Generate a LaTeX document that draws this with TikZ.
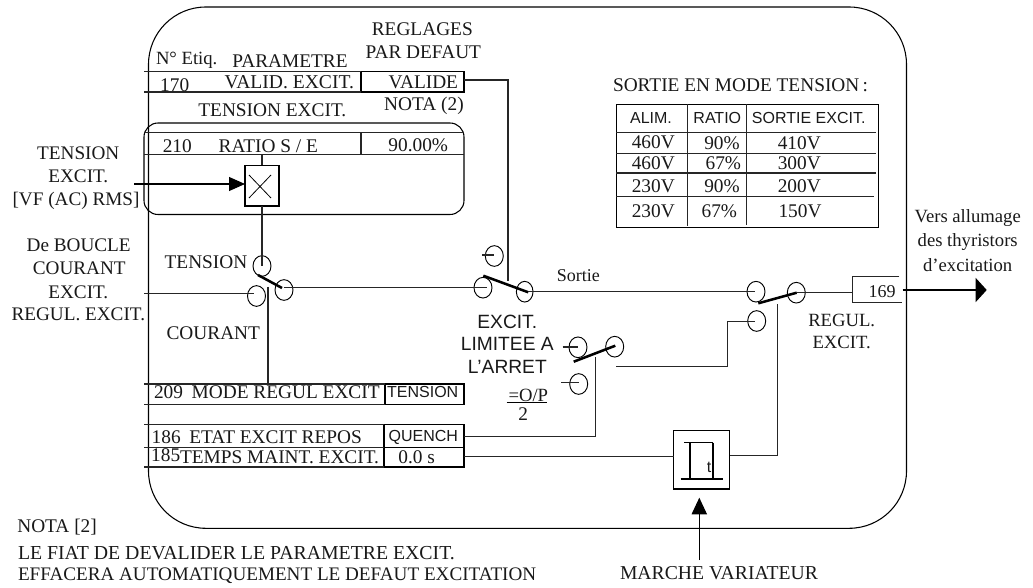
\documentclass[tikz,border=0pt]{standalone}
\usepackage{fontspec}
\setmainfont{Liberation Serif}
\setsansfont{Liberation Sans}
\usetikzlibrary{shapes.geometric,arrows.meta,fit}
\tikzset{
  x=0.75pt,y=-0.75pt,
  every path/.append style={line width=0.8pt},
  lab/.style={inner sep=0,outer sep=0,font=\fontsize{14.5}{16}\selectfont,text=black!90},
  slab/.style={inner sep=0,outer sep=0,font=\sffamily\fontsize{12}{14}\selectfont,text=black!90},
  blab/.style={inner sep=0,outer sep=0,font=\sffamily\fontsize{14.4}{16}\selectfont,text=black!90},
  cellbox/.style={draw,inner sep=0,outer sep=0,line width=0.8pt},
  sw/.style={draw,ellipse,inner sep=0,outer sep=0,minimum width=13.5pt,minimum height=15.5pt,line width=0.7pt},
  bar/.style={line width=1.9pt},
  wire/.style={line width=0.8pt,draw=black!85},
}
\begin{document}
\begin{tikzpicture}
\useasboundingbox (0,0) rectangle (1033,588);
\fill[white] (0,0) rectangle (1033,588);

% outer frame
\node[cellbox,rounded corners=43pt,line width=0.8pt,fit={(148.5,7)(906.5,528.3)}] (frame) {};

% parameter cells
\node[cellbox,fit={(361,71.5)(464,92)}] (cval) {};
\node[cellbox,rounded corners=10.5pt,fit={(144,123)(464,214.5)}] (ratiogroup) {};
\node[cellbox,fit={(385,384)(464,404.7)}] (cmode) {};
\node[cellbox,fit={(384,424.3)(464,447.3)}] (cquench) {};
\node[cellbox,fit={(384,447.3)(464,467)}] (ctemps) {};
\node[cellbox,fit={(245,165.5)(279,206)}] (xbox) {};
\node[cellbox,fit={(673.7,430.3)(729.7,489)}] (timer) {};

% row rules
\coordinate (r1a) at (144,71.5); \coordinate (r1b) at (144,92);
\draw[wire] (r1a) -- (r1a -| cval.west);
\draw[wire] (r1b) -- (r1b -| cval.west);
\coordinate (r2a) at (144,132.5); \coordinate (r2b) at (144,154.5);
\coordinate (r2c) at (464,132.5); \coordinate (r2d) at (464,154.5);
\draw[wire] (r2a) -- (r2c);
\draw[wire] (r2b) -- (r2d);
\coordinate (r2e) at (361,132.5); \coordinate (r2f) at (361,154.5);
\draw[wire] (r2e) -- (r2f);
\coordinate (r3a) at (144,384); \coordinate (r3b) at (144,404.7);
\draw[wire] (r3a) -- (r3a -| cmode.west);
\draw[wire] (r3b) -- (r3b -| cmode.west);
\coordinate (r4a) at (144,424.3); \coordinate (r4b) at (144,447.3); \coordinate (r4c) at (144,467);
\draw[wire] (r4a) -- (r4a -| cquench.west);
\draw[wire] (r4b) -- (r4b -| cquench.west);
\draw[wire] (r4c) -- (r4c -| ctemps.west);

% X multiplier
\coordinate (xa) at (249,175); \coordinate (xb) at (271,198);
\draw[line width=0.6pt] (xa) -- (xb);
\draw[line width=0.6pt] (xa |- xb) -- (xb |- xa);

% switch contacts
\node[sw] (s1t) at (262,266) {};
\node[sw] (s1l) at (256.5,296) {};
\node[sw] (s1r) at (284,290) {};
\node[sw] (s2t) at (494.3,256) {};
\node[sw] (s2l) at (483,287.7) {};
\node[sw,minimum width=12.5pt] (s2r) at (524.7,291.7) {};
\node[sw] (s3l) at (756,291.7) {};
\node[sw] (s3r) at (796.3,292.7) {};
\node[sw] (s3b) at (756.7,321) {};
\node[sw] (s4l) at (578,347.3) {};
\node[sw] (s4r) at (614.7,346.7) {};
\node[sw] (s4b) at (578.7,384) {};

% switch blades
\coordinate (b1a) at (258,275); \coordinate (b1b) at (282,288);
\coordinate (b2a) at (483.3,275.7); \coordinate (b2b) at (528.3,292.3);
\coordinate (b3a) at (758.3,303.3); \coordinate (b3b) at (796.7,292.7);
\coordinate (b4a) at (573.7,361.7); \coordinate (b4b) at (615.3,345.7);
\draw[bar] (b1a) -- (b1b);
\draw[bar] (b2a) -- (b2b);
\draw[bar] (b3a) -- (b3b);
\draw[bar] (b4a) -- (b4b);

% wiring
\coordinate (j1) at (508,80);
\coordinate (j1e) at (508,280.7);
\draw[wire] (cval.east |- j1) -- (j1) -- (j1e);
\coordinate (rt) at (262,154.5);
\draw[wire] (rt) -- (xbox.north);
\draw[wire] (xbox.south) -- (s1t.center);
\coordinate (inL) at (144,293.5);
\coordinate (inLe) at (254,293.5);
\draw[wire,line width=1pt] (inL) -- (inLe);
\coordinate (m1) at (284,287.5);
\coordinate (m2) at (486.7,287.5);
\draw[wire] (m1) -- (m2);
\coordinate (c1) at (268,287);
\coordinate (c2) at (268,384);
\draw[wire,line width=1pt] (c1) -- (c2);
\coordinate (t2a) at (482,255);
\draw[wire] (t2a) -- (t2a -| s2t.center);
\coordinate (sort1) at (528,291.3);
\coordinate (sort2) at (755,291.3);
\draw[wire] (sort1) -- (sort2);
\coordinate (o3) at (852.7,292.7);
\draw[wire] (s3r.center) -- (o3);
\coordinate (q1) at (595.7,436.5);
\coordinate (q2) at (595.7,356.7);
\draw[wire] (cquench.east |- q1) -- (q1) -- (q2);
\coordinate (h1) at (616,366.7);
\coordinate (h2) at (727.7,366.7);
\coordinate (h3) at (727.7,321.7);
\coordinate (h4) at (755,321.7);
\draw[wire,line width=1pt] (h1) -- (h2) -- (h3) -- (h4);
\coordinate (t4a) at (562.7,347);
\coordinate (t4ae) at (578.3,347);
\draw[wire] (t4a) -- (t4ae);
\coordinate (t4b) at (561,382.7);
\coordinate (t4be) at (579,382.7);
\draw[wire] (t4b) -- (t4be);
\coordinate (tin) at (464,456.7);
\draw[wire,line width=1pt] (tin) -- (tin -| timer.west);
\coordinate (tout) at (777.7,455.7);
\coordinate (tup) at (777.7,304.3);
\draw[wire] (timer.east |- tout) -- (tout) -- (tup);

% timer pulse symbol
\coordinate (p0) at (680.7,479); \coordinate (p1) at (722.7,479);
\draw[line width=0.8pt] (p0) -- (p1);
\coordinate (p2) at (684,442.7); \coordinate (p3) at (712.7,442.7); \coordinate (p4) at (712.7,479);
\coordinate (p5) at (690,442.7); \coordinate (p6) at (690,479);
\draw[line width=0.8pt] (p2) -- (p3);
\draw[line width=0.8pt] (p5) -- (p6);
\draw[line width=1.3pt] (p3) -- (p4);
\node[slab] (tt) at (709,467) {t};

% box 169 (open right)
\coordinate (n1) at (852.7,276.3); \coordinate (n2) at (899.3,276.3);
\coordinate (n3) at (852.7,302.3); \coordinate (n4) at (902.3,302.3);
\draw[wire] (n2) -- (n1) -- (n3) -- (n4);

% arrows
\coordinate (a1s) at (134,184);
\draw[line width=0.8pt,-{Triangle[length=12pt,width=10.5pt]}] (a1s) -- (a1s -| xbox.west);
\coordinate (a2s) at (902.7,290); \coordinate (a2e) at (986.7,290);
\draw[line width=0.8pt,-{Triangle[length=8.25pt,width=18pt]}] (a2s) -- (a2e);
\coordinate (a3s) at (699.3,560); \coordinate (a3e) at (699.3,497.7);
\draw[line width=0.8pt,-{Triangle[length=12.5pt,width=11.5pt]}] (a3s) -- (a3e);

% table
\node[cellbox,fit={(616.3,104.3)(878.3,227.7)}] (tbl) {};
\coordinate (v1a) at (687.3,104.3); \coordinate (v1b) at (687.3,225.7);
\coordinate (v2a) at (746.7,104.3); \coordinate (v2b) at (746.7,225);
\draw[wire] (v1a) -- (v1b);
\draw[wire] (v2a) -- (v2b);
\coordinate (h1a) at (616.3,132.7); \coordinate (h1b) at (875.7,132.7);
\coordinate (h2a) at (616.3,153.3); \coordinate (h2b) at (875.7,153.3);
\coordinate (h3a) at (616.3,173); \coordinate (h3b) at (876,173);
\coordinate (h4a) at (616.3,196.3); \coordinate (h4b) at (874,196.3);
\draw[wire] (h1a) -- (h1b);
\draw[wire] (h2a) -- (h2b);
\draw[wire,line width=1pt] (h3a) -- (h3b);
\draw[wire] (h4a) -- (h4b);

\node[lab] (tt0) at (740.5,85.7) {SORTIE EN MODE TENSION\,:};
\node[slab] (th1) at (651,117.7) {ALIM.};
\node[slab] (th2) at (717.3,118.3) {RATIO};
\node[slab] (th3) at (808.7,117.7) {SORTIE EXCIT.};
\node[lab] (d11) at (653.3,142.7) {460V};
\node[lab] (d12) at (722,143.5) {90\%};
\node[lab] (d13) at (799.3,143.7) {410V};
\node[lab] (d21) at (653.3,163.3) {460V};
\node[lab] (d22) at (723.3,163.7) {67\%};
\node[lab] (d23) at (799.3,163.7) {300V};
\node[lab] (d31) at (653.3,186) {230V};
\node[lab] (d32) at (722,186) {90\%};
\node[lab] (d33) at (799.3,186) {200V};
\node[lab] (d41) at (653.3,211) {230V};
\node[lab] (d42) at (719.3,211) {67\%};
\node[lab] (d43) at (800,211) {150V};

% labels
\node[lab] (l1) at (422.3,29.3) {REGLAGES};
\node[lab] (l2) at (423.3,52.3) {PAR DEFAUT};
\node[lab,font=\fontsize{14}{16}\selectfont] (l3) at (186.7,60) {N° Etiq.};
\node[lab] (l4) at (290,60.7) {PARAMETRE};
\node[lab] (l5) at (174.7,84.7) {170};
\node[lab,font=\fontsize{14.7}{16}\selectfont] (l6) at (289.3,81.7) {VALID. EXCIT.};
\node[lab] (l7) at (423.3,82.7) {VALIDE};
\node[lab] (l8) at (424,106) {NOTA (2)};
\node[lab] (l9) at (272.3,110.3) {TENSION EXCIT.};
\node[lab] (l10) at (177.3,145.7) {210};
\node[lab] (l11) at (268.3,145.7) {RATIO S / E};
\node[lab] (l12) at (418.3,145.7) {90.00\%};
\node[lab,font=\fontsize{14.4}{16}\selectfont] (l13) at (78.3,153.7) {TENSION};
\node[lab,font=\fontsize{14.4}{16}\selectfont] (l14) at (78.3,176.7) {EXCIT.};
\node[lab,font=\fontsize{14.4}{16}\selectfont] (l15) at (76,201) {[VF (AC) RMS]};
\node[lab,font=\fontsize{14.4}{16}\selectfont] (l16) at (78.7,245.7) {De BOUCLE};
\node[lab,font=\fontsize{14.4}{16}\selectfont] (l17) at (79.3,268.7) {COURANT};
\node[lab,font=\fontsize{14.4}{16}\selectfont] (l18) at (78.3,292.3) {EXCIT.};
\node[lab,font=\fontsize{14.4}{16}\selectfont] (l19) at (78.3,314) {REGUL. EXCIT.};
\node[lab] (l20) at (206,261.7) {TENSION};
\node[lab] (l21) at (213.3,332.7) {COURANT};
\node[lab,anchor=west] (l22) at (154,392.3) {209\hspace{0.45em}MODE REGUL EXCIT};
\node[slab] (l23) at (422.7,392.3) {TENSION};
\node[lab,anchor=west] (l24) at (151.7,436.7) {186\hspace{0.45em}ETAT EXCIT REPOS};
\node[slab] (l25) at (423.3,437.3) {QUENCH};
\node[lab] (l26) at (165.7,455) {185};
\node[lab,anchor=west] (l27) at (180,457.7) {TEMPS MAINT. EXCIT.};
\node[lab] (l28) at (416.7,457.7) {0.0 s};
\node[lab,anchor=west] (l29) at (17.3,526.7) {NOTA [2]};
\node[lab,anchor=west,font=\fontsize{14.85}{16}\selectfont] (l30) at (18,552.7) {LE FIAT DE DEVALIDER LE PARAMETRE EXCIT.};
\node[lab,anchor=west,font=\fontsize{14.35}{16}\selectfont] (l31) at (18,575.3) {EFFACERA AUTOMATIQUEMENT LE DEFAUT EXCITATION};
\node[lab,anchor=west,font=\fontsize{14.75}{16}\selectfont] (l32) at (620,573.3) {MARCHE VARIATEUR};
\node[lab,font=\fontsize{13.5}{16}\selectfont] (l33) at (578.3,275.7) {Sortie};
\node[blab] (l34) at (507.3,321.7) {EXCIT.};
\node[blab] (l35) at (507.3,344) {LIMITEE A};
\node[blab] (l36) at (507.3,366.7) {L’ARRET};
\node[lab,font=\fontsize{14}{16}\selectfont] (l37) at (528.3,395.5) {=O/P};
\coordinate (u1) at (506.7,402.7); \coordinate (u2) at (547,402.7);
\draw[line width=0.7pt] (u1) -- (u2);
\node[lab] (l38) at (523.3,414) {2};
\node[lab,font=\fontsize{14}{16}\selectfont] (l39) at (841.7,320) {REGUL.};
\node[lab,font=\fontsize{14}{16}\selectfont] (l40) at (841.7,342.7) {EXCIT.};
\node[lab,font=\fontsize{13.5}{16}\selectfont] (l41) at (882,291.7) {169};
\node[lab,font=\fontsize{14}{16}\selectfont] (l42) at (967.7,218) {Vers allumage};
\node[lab,font=\fontsize{14}{16}\selectfont] (l43) at (967.7,242) {des thyristors};
\node[lab,font=\fontsize{14}{16}\selectfont] (l44) at (967.7,265) {d’excitation};
\end{tikzpicture}
\end{document}
